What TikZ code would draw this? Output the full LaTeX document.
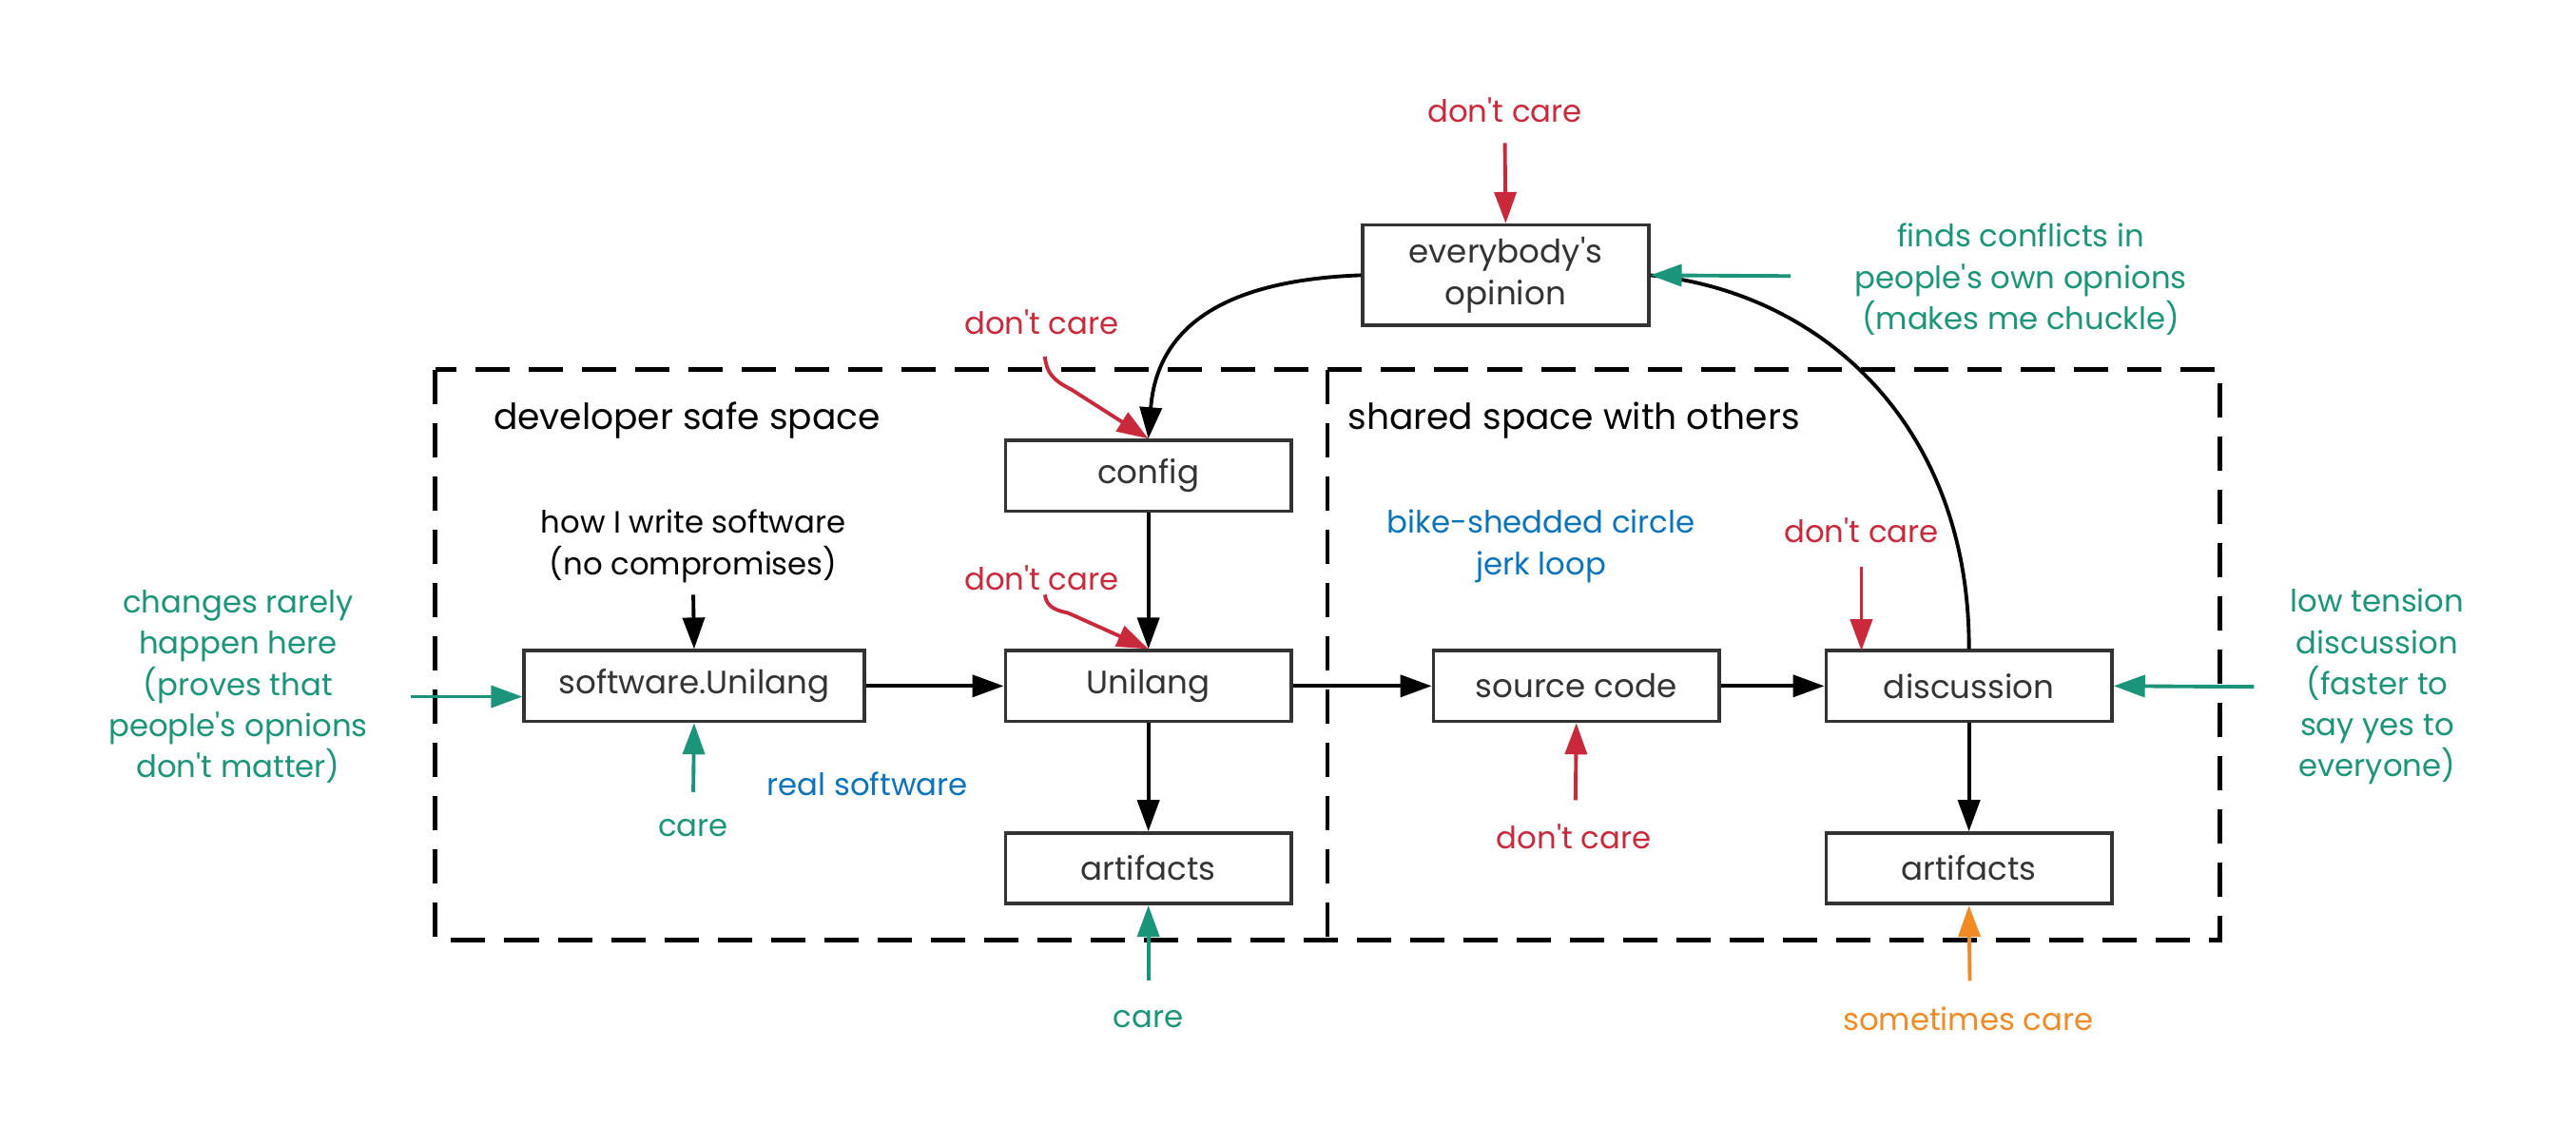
\documentclass[tikz,border=0pt]{standalone}
\usepackage{fontspec}
\setmainfont{Poppins}[Ligatures=TeXOff]
\usetikzlibrary{arrows.meta}
\definecolor{cred}{HTML}{C82A3C}
\definecolor{cgreen}{HTML}{1B9479}
\definecolor{cblue}{HTML}{0B73BA}
\definecolor{corange}{HTML}{EF8A25}
\definecolor{cbox}{HTML}{333333}
\tikzset{
  box/.style={draw=cbox, line width=1pt, text=cbox, minimum width=3.006cm, minimum height=0.743cm, inner sep=0pt, font=\fontsize{9.7}{12.3}\selectfont},
  lbl/.style={align=center, font=\fontsize{9.2}{12.3}\selectfont, inner sep=0pt},
  head/.style={anchor=west, inner sep=0pt, font=\fontsize{10.7}{12.3}\selectfont},
  conn/.style={line width=1.1pt, -{Triangle[length=3.3mm,width=2.3mm]}},
  redc/.style={conn, draw=cred},
  greenc/.style={conn, draw=cgreen},
  orangec/.style={conn, draw=corange},
  region/.style={line width=1.4pt, dash pattern=on 0.36cm off 0.2cm}
}
\begin{document}
\begin{tikzpicture}[x=0.0172768cm, y=-0.0172768cm]
\useasboundingbox[fill=white] (0,0) rectangle (1568,685);

% region
\draw[region] (265,225) rectangle (1351,572);
\draw[region] (808,225) -- (808,572);
\node[head] (dss) at (300,256) {developer safe space};
\node[head] (sss) at (820,256) {shared space with others};

% boxes
\node[box, minimum height=1.054cm, align=center] (op) at (916.5,167.5) {everybody's\\opinion};
\node[box] (config) at (699,289.5) {config};
\node[box] (uni) at (699,417.5) {Unilang};
\node[box] (artL) at (699,528.5) {artifacts};
\node[box, minimum width=3.576cm] (sw) at (422.5,417.5) {software.Unilang};
\node[box] (src) at (959.5,417.5) {source code};
\node[box] (disc) at (1198.5,417.5) {discussion};
\node[box] (artR) at (1198.5,528.5) {artifacts};

% labels
\node[lbl, text=cred] (dc0) at (916,67) {don't care};
\node[lbl, text=cred] (dc1) at (634,196) {don't care};
\node[lbl, text=cred] (dc2) at (634,352) {don't care};
\node[lbl, text=cred] (dc3) at (958,509) {don't care};
\node[lbl, text=cred] (dc4) at (1133,323) {don't care};
\node[lbl, text=cgreen] (fc) at (1230,170) {finds conflicts in\\people's own opnions\\(makes me chuckle)};
\node[lbl] (how) at (422,332.5) {how I write software\\(no compromises)};
\node[lbl, text=cblue] (bike) at (938,332.5) {bike-shedded circle\\jerk loop};
\node[lbl, text=cgreen] (chg) at (145,418) {changes rarely\\happen here\\(proves that\\people's opnions\\don't matter)};
\node[lbl, text=cgreen] (low) at (1447,418) {low tension\\discussion\\(faster to\\say yes to\\everyone)};
\node[lbl, text=cgreen] (care1) at (422,504) {care};
\node[lbl, text=cblue] (real) at (528,477) {real software};
\node[lbl, text=cgreen] (care2) at (699,620) {care};
\node[lbl, text=corange] (some) at (1198,620) {sometimes care};

% coordinates for free ends
\coordinate (s0) at (916,87);
\coordinate (s1) at (636,217);
\coordinate (s2) at (636,362);
\coordinate (s3) at (959,487);
\coordinate (s4) at (1133,345);
\coordinate (sfc) at (1090,168);
\coordinate (show) at (422,362);
\coordinate (schg) at (250,424);
\coordinate (slow) at (1372,418);
\coordinate (scare1) at (422,482);
\coordinate (scare2) at (699,597);
\coordinate (ssome) at (1199,597);

% black edges
\draw[line width=1.1pt] (disc.north) .. controls (1199,260) and (1110,178) .. (op.east);
\draw[conn] (op.west) .. controls (760,170) and (705,190) .. (config.north);
\draw[conn] (config) -- (uni);
\draw[conn] (uni) -- (artL);
\draw[conn] (sw) -- (uni);
\draw[conn] (uni) -- (src);
\draw[conn] (src) -- (disc);
\draw[conn] (disc) -- (artR);
\draw[conn] (show) -- (sw.north);

% coloured arrows
\draw[redc] (s0) -- (op.north);
\draw[redc] (s1) .. controls (637,226) and (640,231) .. (652,237) -- (config.north);
\draw[redc] (s2) .. controls (637,368) and (640,371) .. (650,373) -- (uni.north);
\draw[redc] (s3) -- (src.south);
\draw[redc] (s4) -- (1133,396);
\draw[greenc] (sfc) -- (op.east);
\draw[greenc] (schg) -- (sw.west |- schg);
\draw[greenc] (slow) -- (disc.east);
\draw[greenc] (scare1) -- (sw.south);
\draw[greenc] (scare2) -- (artL.south);
\draw[orangec] (ssome) -- (artR.south);
\end{tikzpicture}
\end{document}
